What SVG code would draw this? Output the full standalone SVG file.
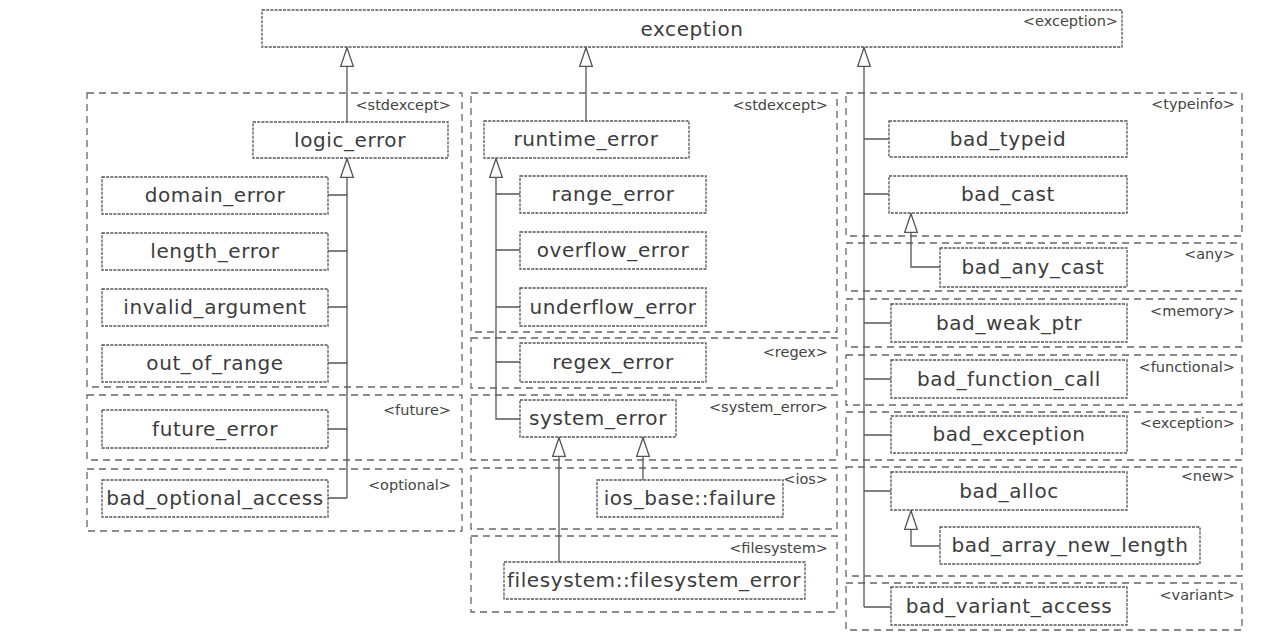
<svg xmlns="http://www.w3.org/2000/svg" width="1265" height="640" viewBox="0 0 1265 640">
<defs>
<style>
.grp{fill:none;stroke:#666;stroke-width:1.3;stroke-dasharray:7 5}
.nd{fill:#fff;stroke:#555;stroke-width:1.3;stroke-dasharray:3 1.2}
.nt{font-family:"DejaVu Sans","Noto Sans",sans-serif;font-size:20px;letter-spacing:0.6px;fill:#3c3c3c;text-anchor:middle}
.lb{font-family:"DejaVu Sans","Noto Sans",sans-serif;font-size:14.5px;fill:#444;text-anchor:end}
.cn{fill:none;stroke:#555;stroke-width:1.3}
</style>
<marker id="tri" viewBox="0 0 20 14" markerWidth="20" markerHeight="14" refX="20" refY="7" orient="auto" markerUnits="userSpaceOnUse">
<path d="M0.7,0.7 L19.3,7 L0.7,13.3 Z" fill="#fff" stroke="#555" stroke-width="1.3"/>
</marker>
</defs>
<rect width="1265" height="640" fill="#fff"/>

<g id="groups">
<g id="g-stdexcept-left"><rect class="grp" x="87" y="93" width="375" height="294"/><text class="lb" x="451" y="110">&lt;stdexcept&gt;</text></g>
<g id="g-future"><rect class="grp" x="87" y="395" width="375" height="65"/><text class="lb" x="451" y="415">&lt;future&gt;</text></g>
<g id="g-optional"><rect class="grp" x="87" y="469" width="375" height="62"/><text class="lb" x="451" y="490">&lt;optional&gt;</text></g>
<g id="g-stdexcept-mid"><rect class="grp" x="471" y="93" width="366" height="239"/><text class="lb" x="828" y="110">&lt;stdexcept&gt;</text></g>
<g id="g-regex"><rect class="grp" x="471" y="338" width="366" height="50"/><text class="lb" x="828" y="357">&lt;regex&gt;</text></g>
<g id="g-system_error"><rect class="grp" x="471" y="395" width="366" height="65"/><text class="lb" x="828" y="412">&lt;system_error&gt;</text></g>
<g id="g-ios"><rect class="grp" x="471" y="468" width="366" height="61"/><text class="lb" x="828" y="484">&lt;ios&gt;</text></g>
<g id="g-filesystem"><rect class="grp" x="471" y="536" width="366" height="76"/><text class="lb" x="828" y="553">&lt;filesystem&gt;</text></g>
<g id="g-typeinfo"><rect class="grp" x="846" y="93" width="396" height="143"/><text class="lb" x="1235" y="109">&lt;typeinfo&gt;</text></g>
<g id="g-any"><rect class="grp" x="846" y="243" width="396" height="48"/><text class="lb" x="1235" y="259">&lt;any&gt;</text></g>
<g id="g-memory"><rect class="grp" x="846" y="299" width="396" height="48"/><text class="lb" x="1235" y="316">&lt;memory&gt;</text></g>
<g id="g-functional"><rect class="grp" x="846" y="355" width="396" height="50"/><text class="lb" x="1235" y="372">&lt;functional&gt;</text></g>
<g id="g-exception"><rect class="grp" x="846" y="412" width="396" height="48"/><text class="lb" x="1235" y="428">&lt;exception&gt;</text></g>
<g id="g-new"><rect class="grp" x="846" y="467" width="396" height="109"/><text class="lb" x="1235" y="481">&lt;new&gt;</text></g>
<g id="g-variant"><rect class="grp" x="846" y="583" width="396" height="47"/><text class="lb" x="1235" y="600">&lt;variant&gt;</text></g>
</g>

<g id="connectors">
<path class="cn" d="M347,122 V47" marker-end="url(#tri)"/>
<path class="cn" d="M586,121 V47" marker-end="url(#tri)"/>
<path class="cn" d="M864,607 V47" marker-end="url(#tri)"/>
<path class="cn" d="M347,498 V158" marker-end="url(#tri)"/>
<path class="cn" d="M328,195 H347 M328,251 H347 M328,307 H347 M328,363 H347 M328,429 H347 M328,498 H347"/>
<path class="cn" d="M520,419 H496 V158" marker-end="url(#tri)"/>
<path class="cn" d="M496,194 H520 M496,250 H520 M496,307 H520 M496,362 H520"/>
<path class="cn" d="M559,562 V437" marker-end="url(#tri)"/>
<path class="cn" d="M643,480 V437" marker-end="url(#tri)"/>
<path class="cn" d="M864,139 H889 M864,194 H889 M864,323 H891 M864,379 H891 M864,435 H891 M864,491 H891 M864,607 H891"/>
<path class="cn" d="M940,267 H911 V213" marker-end="url(#tri)"/>
<path class="cn" d="M940,546 H911 V510" marker-end="url(#tri)"/>
</g>

<g id="n-exception"><rect class="nd" x="262" y="10" width="860" height="37"/><text class="nt" x="692" y="36">exception</text><text class="lb" x="1118" y="26">&lt;exception&gt;</text></g>
<g id="n-logic_error"><rect class="nd" x="253" y="122" width="195" height="36"/><text class="nt" x="350" y="147">logic_error</text></g>
<g id="n-domain_error"><rect class="nd" x="102" y="177" width="226" height="37"/><text class="nt" x="215" y="202">domain_error</text></g>
<g id="n-length_error"><rect class="nd" x="102" y="233" width="226" height="37"/><text class="nt" x="215" y="258">length_error</text></g>
<g id="n-invalid_argument"><rect class="nd" x="102" y="289" width="226" height="37"/><text class="nt" x="215" y="314">invalid_argument</text></g>
<g id="n-out_of_range"><rect class="nd" x="102" y="345" width="226" height="37"/><text class="nt" x="215" y="370">out_of_range</text></g>
<g id="n-future_error"><rect class="nd" x="102" y="410" width="226" height="38"/><text class="nt" x="215" y="436">future_error</text></g>
<g id="n-bad_optional_access"><rect class="nd" x="102" y="480" width="226" height="37"/><text class="nt" x="215" y="505">bad_optional_access</text></g>
<g id="n-runtime_error"><rect class="nd" x="484" y="121" width="205" height="37"/><text class="nt" x="586" y="146">runtime_error</text></g>
<g id="n-range_error"><rect class="nd" x="520" y="176" width="186" height="37"/><text class="nt" x="613" y="201">range_error</text></g>
<g id="n-overflow_error"><rect class="nd" x="520" y="232" width="186" height="37"/><text class="nt" x="613" y="257">overflow_error</text></g>
<g id="n-underflow_error"><rect class="nd" x="520" y="288" width="186" height="38"/><text class="nt" x="613" y="314">underflow_error</text></g>
<g id="n-regex_error"><rect class="nd" x="520" y="343" width="186" height="39"/><text class="nt" x="613" y="369">regex_error</text></g>
<g id="n-system_error"><rect class="nd" x="520" y="400" width="156" height="37"/><text class="nt" x="598" y="425">system_error</text></g>
<g id="n-ios_base_failure"><rect class="nd" x="597" y="480" width="186" height="37"/><text class="nt" x="690" y="505">ios_base::failure</text></g>
<g id="n-filesystem_error"><rect class="nd" x="504" y="562" width="301" height="37"/><text class="nt" x="654" y="587">filesystem::filesystem_error</text></g>
<g id="n-bad_typeid"><rect class="nd" x="889" y="121" width="238" height="36"/><text class="nt" x="1008" y="146">bad_typeid</text></g>
<g id="n-bad_cast"><rect class="nd" x="889" y="176" width="238" height="37"/><text class="nt" x="1008" y="201">bad_cast</text></g>
<g id="n-bad_any_cast"><rect class="nd" x="940" y="248" width="187" height="39"/><text class="nt" x="1033" y="274">bad_any_cast</text></g>
<g id="n-bad_weak_ptr"><rect class="nd" x="891" y="304" width="236" height="38"/><text class="nt" x="1009" y="330">bad_weak_ptr</text></g>
<g id="n-bad_function_call"><rect class="nd" x="891" y="360" width="236" height="38"/><text class="nt" x="1009" y="386">bad_function_call</text></g>
<g id="n-bad_exception"><rect class="nd" x="891" y="416" width="236" height="37"/><text class="nt" x="1009" y="441">bad_exception</text></g>
<g id="n-bad_alloc"><rect class="nd" x="891" y="472" width="236" height="38"/><text class="nt" x="1009" y="498">bad_alloc</text></g>
<g id="n-bad_array_new_length"><rect class="nd" x="940" y="527" width="260" height="37"/><text class="nt" x="1070" y="552">bad_array_new_length</text></g>
<g id="n-bad_variant_access"><rect class="nd" x="891" y="587" width="236" height="38"/><text class="nt" x="1009" y="613">bad_variant_access</text></g>
</svg>
